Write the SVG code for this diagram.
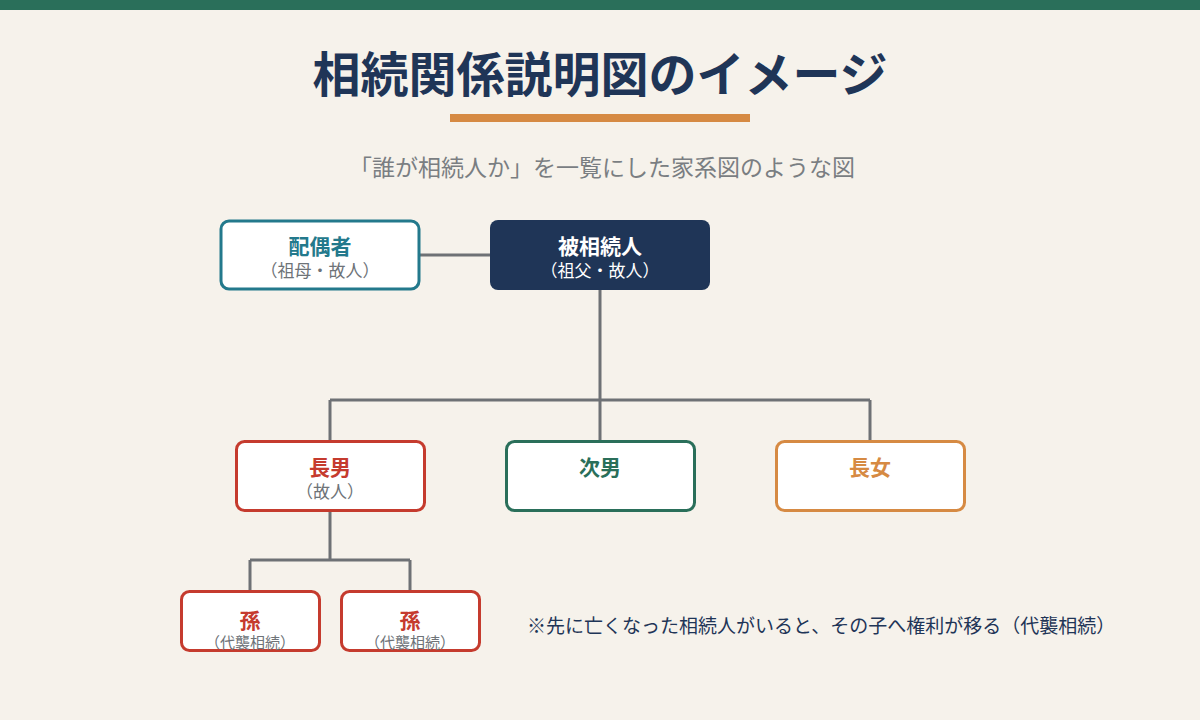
<svg xmlns="http://www.w3.org/2000/svg" width="1200" height="720" viewBox="0 0 1200 720">
<style>
text{font-family:"Noto Sans CJK JP","Noto Sans CJK SC",sans-serif;text-anchor:middle}
.box{fill:#ffffff;stroke-width:3}
.name{font-size:21px;font-weight:700}
.sub{font-size:17px;fill:#6e7378}
.sub2{font-size:15px;fill:#6e7378}
.conn{stroke:#6e7175;stroke-width:3;fill:none}
</style>
<rect width="1200" height="720" fill="#f6f2eb"/>
<rect width="1200" height="10" fill="#2a6f5a"/>
<text x="600" y="92" font-size="48" font-weight="700" fill="#1f3557">相続関係説明図のイメージ</text>
<rect x="450" y="114" width="300" height="8" fill="#d68a43"/>
<text x="602" y="176" font-size="23" fill="#7a7e82">「誰が相続人か」を一覧にした家系図のような図</text>
<g id="connectors">
<path class="conn" d="M420 255H490"/>
<path class="conn" d="M600 290V400M330 400H870M330 400V441M600 400V441M870 400V441"/>
<path class="conn" d="M330 511V560M250 560H410M250 560V591M410 560V591"/>
</g>
<g id="spouse">
<rect class="box" x="221" y="221" width="198" height="68" rx="8" stroke="#23798c"/>
<text class="name" x="320" y="254" fill="#23798c">配偶者</text>
<text class="sub" x="320" y="277">（祖母・故人）</text>
</g>
<g id="decedent">
<rect x="490" y="220" width="220" height="70" rx="8" fill="#1f3557"/>
<text class="name" x="600" y="254" fill="#ffffff">被相続人</text>
<text x="600" y="277" font-size="17" fill="#ffffff">（祖父・故人）</text>
</g>
<g id="eldest-son">
<rect class="box" x="236.5" y="441.5" width="188" height="69" rx="8" stroke="#c53b2e"/>
<text class="name" x="330" y="475" fill="#c53b2e">長男</text>
<text class="sub" x="330" y="498">（故人）</text>
</g>
<g id="second-son">
<rect class="box" x="506.5" y="441.5" width="188" height="69" rx="8" stroke="#2a6f5a"/>
<text class="name" x="600" y="475" fill="#2a6f5a">次男</text>
</g>
<g id="eldest-daughter">
<rect class="box" x="776.5" y="441.5" width="188" height="69" rx="8" stroke="#d68a43"/>
<text class="name" x="870" y="475" fill="#d68a43">長女</text>
</g>
<g id="grandchild1">
<rect class="box" x="181.5" y="591.5" width="138" height="59" rx="8" stroke="#c53b2e"/>
<text class="name" x="250" y="628" fill="#c53b2e">孫</text>
<text class="sub2" x="250" y="648">（代襲相続）</text>
</g>
<g id="grandchild2">
<rect class="box" x="341.5" y="591.5" width="138" height="59" rx="8" stroke="#c53b2e"/>
<text class="name" x="410" y="628" fill="#c53b2e">孫</text>
<text class="sub2" x="410" y="648">（代襲相続）</text>
</g>
<text x="527" y="633" font-size="19" fill="#1f3557" style="text-anchor:start">※先に亡くなった相続人がいると、その子へ権利が移る（代襲相続）</text>
</svg>
